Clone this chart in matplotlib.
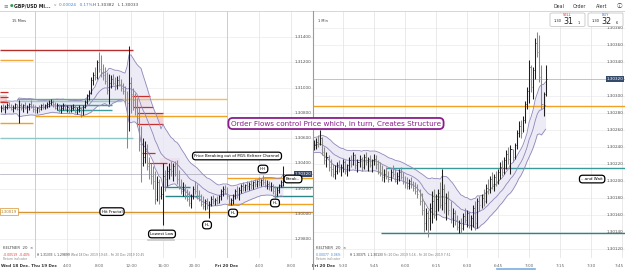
import numpy as np
import pandas as pd
import matplotlib
matplotlib.use("Agg")
import matplotlib.pyplot as plt
from matplotlib.patches import Rectangle, FancyBboxPatch

W, H = 625, 270
BASE = 1.30000

# --- 15 min GBP/USD bars (pips above 1.30000), Wed 18 Dec 19:45 onwards ---
hi15 = [86, 87, 86, 88, 89, 87, 86, 88, 87, 90,
        88, 87, 89, 86, 88, 90, 87,
        86, 85, 86, 87, 88, 87, 89, 90, 91, 90,
        89, 88, 87, 86, 88, 87, 86, 85, 86, 87, 86, 85, 86, 85, 86,
        90, 95, 98, 108, 112, 116, 122, 128, 126, 119, 116, 112, 111,
        110, 111, 108, 109, 110, 107, 104, 101, 97, 133,
        108, 100, 96, 92, 85, 70, 60, 58, 55, 45, 40, 38, 34, 30, 28, 22, 40,
        35, 38, 40, 42, 40, 42, 43, 35, 28, 25, 24, 20, 18, 16, 22, 26, 24, 19, 16, 14, 12, 13, 10,
        14, 15, 13, 14, 15, 20, 22, 23, 21, 15, 13, 16, 20, 22, 21,
        24, 25, 24, 26, 25, 27, 26, 28, 27, 29, 28, 31, 28, 27, 26, 25, 24, 22, 21, 24, 27, 38]
lo15 = [81, 82, 80, 83, 84, 82, 81, 83, 82, 72,
        82, 81, 83, 80, 82, 84, 81,
        80, 80, 81, 82, 83, 83, 84, 85, 86, 85,
        83, 82, 81, 80, 82, 82, 81, 80, 81, 82, 80, 79, 81, 77, 78,
        84, 87, 90, 95, 102, 106, 107, 112, 108, 106, 103, 95, 87,
        100, 102, 98, 99, 101, 97, 95, 87, 52, 66,
        80, 82, 78, 70, 50, 25, 38, 40, 35, 28, 24, 20, 8, 10, 8, 12, -9,
        18, 22, 28, 30, 26, 30, 24, 20, 16, 14, 12, 10, 6, 5, 12, 16, 12, 10, 6, 4, 3, 4, -3,
        6, 8, 7, 8, 9, 11, 14, 16, 12, 7, 7, 8, 12, 13, 11,
        17, 18, 18, 19, 19, 20, 20, 21, 21, 22, 22, 23, 21, 20, 19, 18, 16, 13, 14, 17, 21, 22]
cl15 = [84, 83, 85, 86, 85, 83, 84, 87, 83, 86,
        84, 86, 84, 85, 87, 85, 83,
        82, 84, 83, 86, 85, 86, 87, 88, 89, 87,
        84, 86, 83, 84, 86, 83, 85, 82, 84, 85, 81, 83, 84, 82, 85,
        89, 94, 96, 106, 110, 108, 120, 115, 112, 110, 105, 98, 104,
        107, 104, 101, 106, 103, 100, 97, 90, 88, 104,
        95, 90, 84, 76, 55, 40, 45, 50, 38, 32, 30, 26, 12, 25, 14, 16, 30,
        28, 34, 36, 34, 38, 32, 28, 22, 18, 20, 15, 12, 9, 14, 20, 18, 14, 12, 8, 6, 10, 7, 8,
        12, 10, 11, 9, 14, 18, 20, 17, 14, 9, 11, 14, 18, 15, 19,
        22, 21, 23, 22, 24, 23, 25, 24, 26, 25, 27, 25, 23, 24, 21, 22, 18, 16, 19, 23, 25, 32]

# --- 1 min bars (pips above 1.30000), Fri 20 Dec 5:16 onwards ---
hi1 = [24.8, 25.0, 25.4, 26.0, 25.2, 24.0, 23.4, 23.0, 22.6, 22.0,
       21.8, 22.2, 22.4, 22.0, 22.6, 22.4, 22.0, 22.8, 23.0, 23.4,
       23.2, 22.6, 23.0, 22.8, 23.2, 23.4, 22.8, 23.0, 22.6, 23.2,
       23.0, 22.4, 22.2, 21.8, 21.4, 21.6, 21.2, 21.4, 21.8, 21.4,
       21.0, 21.4, 21.6, 21.0, 20.6, 20.4, 20.2, 20.4, 20.0, 19.8,
       19.6, 19.0, 18.6, 17.6, 16.8, 16.6, 17.4, 18.8, 19.0, 18.4,
       19.0, 19.8, 21.4, 19.6, 18.6, 18.8, 17.6, 16.8, 16.6, 16.0,
       15.4, 15.6, 16.2, 16.8, 16.6, 16.4, 16.0, 17.2, 17.6, 18.0,
       18.2, 18.4, 19.0, 19.6, 20.2, 20.6, 21.0, 20.8, 21.2, 21.4,
       22.2, 22.4, 22.8, 23.6, 24.0, 24.2, 23.8, 24.4, 26.0, 27.0,
       27.2, 27.6, 29.4, 31.0, 34.2, 33.6, 33.4, 36.8, 37.5, 37.2,
       33.6, 30.4, 33.6]
lo1 = [23.6, 23.8, 24.0, 24.2, 23.0, 22.0, 21.6, 21.2, 20.6, 20.4,
       20.2, 20.8, 21.0, 20.6, 21.0, 20.8, 20.6, 21.2, 21.6, 21.8,
       21.4, 21.0, 21.6, 21.2, 21.4, 21.8, 21.2, 21.6, 21.0, 21.8,
       21.4, 20.8, 20.6, 20.0, 19.8, 20.2, 19.8, 20.0, 20.4, 19.8,
       19.6, 20.0, 20.2, 19.6, 19.2, 19.0, 19.0, 19.2, 18.8, 18.4,
       18.0, 17.2, 16.0, 14.0, 14.2, 13.4, 14.2, 15.0, 15.6, 15.4,
       16.4, 16.8, 16.6, 16.2, 15.4, 16.0, 15.0, 14.6, 14.8, 14.2,
       13.8, 13.9, 14.2, 15.0, 14.6, 14.4, 14.2, 14.6, 14.2, 14.4,
       16.4, 16.8, 17.0, 17.4, 18.4, 18.6, 19.0, 18.8, 19.4, 19.6,
       20.2, 20.6, 20.8, 21.4, 22.0, 20.8, 22.2, 22.6, 23.8, 25.2,
       25.0, 25.8, 26.8, 28.4, 29.2, 30.4, 29.6, 32.0, 34.6, 31.6,
       28.4, 27.6, 30.0]
cl1 = [24.2, 24.6, 24.4, 25.0, 23.4, 22.4, 22.8, 21.6, 21.4, 20.8,
       21.2, 21.8, 21.4, 21.6, 22.2, 21.2, 21.8, 22.4, 22.0, 23.0,
       21.8, 22.2, 22.6, 21.6, 22.8, 22.2, 22.6, 21.8, 22.4, 22.6,
       22.0, 21.2, 21.0, 20.4, 20.8, 20.6, 20.2, 21.0, 20.8, 20.0,
       20.6, 21.0, 20.4, 20.0, 19.8, 19.4, 20.0, 19.6, 19.2, 18.8,
       18.4, 17.6, 16.6, 15.0, 16.2, 15.6, 16.8, 17.6, 16.4, 17.8,
       18.6, 17.2, 19.0, 17.4, 18.0, 16.6, 15.6, 16.2, 15.4, 14.6,
       15.0, 14.4, 15.8, 15.4, 16.2, 14.8, 15.6, 16.8, 15.0, 17.6,
       17.2, 18.0, 17.6, 19.2, 19.0, 20.2, 19.6, 20.4, 20.0, 21.0,
       21.6, 21.0, 22.4, 23.2, 22.6, 23.8, 22.8, 24.2, 25.6, 26.4,
       25.6, 27.2, 29.0, 30.6, 33.4, 31.0, 33.0, 36.2, 35.2, 32.2,
       29.0, 30.2, 32.0]

# horizontal levels, pips above 1.30000 : (level, from bar, to bar, colour)
left_levels = [
    (130.0, -0.5, 66.2, "#b3302c"),
    (122.1, -0.5, 16.2, "#f2a93b"),
    (90.8, 7.8, 61.2, "#74a98f"),
    (89.5, 7.8, 60.3, "#92cccc"),
    (86.0, 27.8, 55.3, "#3f9c9c"),
    (82.6, 27.8, 55.3, "#3f9c9c"),
    (90.8, 60.3, 112.8, "#f7bd55"),
    (77.4, 17.0, 113.0, "#f2a223"),
    (72.1, -0.5, 16.2, "#f2a223"),
    (60.3, -0.5, 66.2, "#8fc6c6"),
    (21.5, 82.0, 94.5, "#2b8585"),
    (13.9, 82.0, 99.5, "#2b8585"),
    (28.8, 112.8, 156.0, "#f2a223"),
    (7.9, 112.8, 156.0, "#f2a223"),
    (21.5, 136.0, 156.0, "#2b8585"),
    (13.9, 136.0, 156.0, "#2b8585"),
    (1.9, -0.5, 156.0, "#d49431"),
]
red_lines = [(96.6, -0.5, 3.7), (92.6, -0.5, 3.7), (88.7, -0.5, 3.7),
             (93.0, 65.3, 74.5), (85.0, 66.2, 76.2), (80.0, 67.8, 81.2),
             (71.6, 67.8, 81.2), (48.0, 70.3, 77.0), (40.0, 73.7, 82.8)]
supply_zones = [(65.3, 74.5, 85.0, 93.0), (67.8, 81.2, 71.6, 80.0),
                (79.5, 89.5, 37.0, 44.0), (-0.5, 3.0, 88.0, 94.0)]
right_levels = [
    (28.8, 0, 160, "#f2a223"),
    (21.5, 35.8, 160, "#3a9a9a"),
    (13.9, 33.4, 160, "#2b8585"),
]
last_pips = 32.0

left_ticks = [1.29800, 1.30000, 1.30200, 1.30400, 1.30600, 1.30800,
              1.31000, 1.31200, 1.31400]
right_ticks = [1.30120, 1.30140, 1.30160, 1.30180, 1.30200, 1.30220, 1.30240,
               1.30260, 1.30280, 1.30300, 1.30340, 1.30360, 1.30380]
left_xpos = [33, 49, 65, 81, 97, 113, 129, 145]
left_xlab = ["4:00", "8:00", "12:00", "16:00", "20:00", "Fri 20 Dec", "4:00", "8:00"]
right_xpos = [15, 30, 45, 60, 75, 90, 105, 120, 135, 150]
right_xlab = ["5:30", "5:45", "6:00", "6:15", "6:30", "6:45", "7:00", "7:15", "7:30", "7:45"]


def px(v):
    return BASE + np.asarray(v, dtype=float) / 10000


def keltner(hi, lo, cl, n=20, mult=1.0):
    df = pd.DataFrame({"h": hi, "l": lo, "c": cl})
    mid = df.c.ewm(span=n, adjust=False).mean()
    prev = df.c.shift(1).fillna(df.c)
    tr = pd.concat([df.h - df.l, (df.h - prev).abs(), (df.l - prev).abs()], axis=1).max(axis=1)
    atr = tr.ewm(span=10, adjust=False).mean()
    return mid + mult * atr, mid, mid - mult * atr


def draw_bars(ax, x, hi, lo, cl, tick):
    prev = np.r_[cl[0], cl[:-1]]
    col = np.where(cl >= prev, "#1e1e1e", "#8a8a8a")
    ax.vlines(x, lo, hi, colors=col, lw=0.75, zorder=4)
    ax.hlines(cl, x, x + tick, colors=col, lw=0.6, zorder=4)


def draw_keltner(ax, x, up, mid, dn):
    ax.fill_between(x, up, dn, color="#e9e6f4", alpha=0.8, lw=0, zorder=1)
    for s in (up, mid, dn):
        ax.plot(x, s, color="#8f87b8", lw=0.6, zorder=3)


fig = plt.figure(figsize=(W / 100, H / 100), dpi=100)
fig.patch.set_facecolor("white")
axL = fig.add_axes([0, 12 / H, 313 / W, 247 / H])
axR = fig.add_axes([313 / W, 12 / H, 312 / W, 247 / H])

axL.set_xlim(-0.5, 156)
axL.set_ylim(1.29652, 1.31606)
axR.set_xlim(0.48, 151.4)
axR.set_ylim(1.30109, 1.30400)

for ax in (axL, axR):
    ax.set_xticks([])
    ax.set_yticks([])
    for s in ax.spines.values():
        s.set_visible(False)

lab = dict(fontsize=3, color="#555555")

# grids
for v in left_ticks:
    axL.axhline(v, color="#ececec", lw=0.5, zorder=0)
    axL.text(0.995, v, f"{v:.5f}", transform=axL.get_yaxis_transform(),
             ha="right", va="center", **lab)
for p in [17] + left_xpos:
    c = "#c4c4cc" if p in (17, 113) else "#e6e6e6"
    axL.axvline(p, color=c, lw=0.6, zorder=0)
axL.text(1 / 313, -0.032, "Wed 18 Dec. Thu 19 Dec", transform=axL.get_xaxis_transform(),
         ha="left", va="center", fontsize=3, color="#333333", fontweight="bold")
for p, t in zip(left_xpos, left_xlab):
    axL.text(p, -0.032, t, transform=axL.get_xaxis_transform(), ha="center", va="center",
             fontsize=3, color="#333333" if "Dec" in t else "#666666",
             fontweight="bold" if "Dec" in t else "normal")

for v in right_ticks:
    axR.axhline(v, color="#ececec", lw=0.5, zorder=0)
    axR.text(0.995, v, f"{v:.5f}", transform=axR.get_yaxis_transform(),
             ha="right", va="center", **lab)
for p in right_xpos:
    axR.axvline(p, color="#e6e6e6", lw=0.6, zorder=0)
axR.text(2 / 312, -0.032, "Fri 20 Dec", transform=axR.get_xaxis_transform(),
         ha="left", va="center", fontsize=3, color="#333333", fontweight="bold")
for p, t in zip(right_xpos, right_xlab):
    edge = p == right_xpos[-1]
    axR.text(0.997 if edge else p, -0.032, t,
             transform=axR.transAxes if edge else axR.get_xaxis_transform(),
             ha="right" if edge else "center", va="center", fontsize=3, color="#666666")

# zones and levels
for x0, x1, p0, p1 in supply_zones:
    axL.add_patch(Rectangle((x0, px(p0)), x1 - x0, px(p1) - px(p0),
                            fc="#f6d3d3", ec="none", zorder=1))
for lv, x0, x1, c in left_levels:
    axL.hlines(px(lv), x0, x1, colors=c, lw=1.0, zorder=2)
for lv, x0, x1 in red_lines:
    axL.hlines(px(lv), x0, x1, colors="#c9302c", lw=0.9, zorder=2)
for lv, x0, x1, c in right_levels:
    axR.hlines(px(lv), x0, x1, colors=c, lw=1.0, zorder=2)
axL.axhline(px(last_pips), color="#a9a9b8", lw=0.5, zorder=2)
axR.axhline(px(last_pips), color="#a9a9b8", lw=0.5, zorder=2)

# bars + keltner
xL = np.arange(len(hi15))
hL, lL, cL = px(hi15), px(lo15), px(cl15)
draw_keltner(axL, xL, *keltner(hL, lL, cL))
draw_bars(axL, xL, hL, lL, cL, 0.5)

xR = np.arange(1, len(hi1) + 1)
hR, lR, cR = px(hi1), px(lo1), px(cl1)
draw_keltner(axR, xR, *keltner(hR, lR, cR, mult=0.75))
draw_bars(axR, xR, hR, lR, cR, 0.5)

# last price flags
flag = dict(boxstyle="square,pad=0.25", fc="#35496b", ec="none")
axL.text(0.995, px(last_pips), f"{px(last_pips):.5f}", transform=axL.get_yaxis_transform(),
         ha="right", va="center", fontsize=3, color="white", bbox=flag, zorder=6)
axR.text(0.995, px(last_pips), f"{px(last_pips):.5f}", transform=axR.get_yaxis_transform(),
         ha="right", va="center", fontsize=3, color="white", bbox=flag, zorder=6)
axL.text(0.003, px(1.9), "1.30019", transform=axL.get_yaxis_transform(), ha="left",
         va="center", fontsize=2.8, color="#b07a2a",
         bbox=dict(boxstyle="square,pad=0.3", fc="white", ec="#d49431", lw=0.5), zorder=6)

# annotations
box = dict(boxstyle="round,pad=0.45,rounding_size=0.8", fc="white", ec="black", lw=0.9)
notes_left = [("Hit Fractal", 55.5, 1.9), ("Lowest Low", 80.5, -15.8), ("HL", 103, -8.7),
              ("HL", 116, 0.8), ("HH", 131, 35.6), ("HL", 137, 8.7), ("Break..", 146, 27.7),
              ("Price Breaking out of M15 Keltner Channel", 118, 45.9)]
for t, x, p in notes_left:
    axL.text(x, px(p), t, ha="center", va="center", fontsize=2.9, color="black",
             bbox=box, zorder=7)
axR.text(135.5, px(20.2), "...and Wait", ha="center", va="center", fontsize=2.9,
         color="black", bbox=box, zorder=7)


def ftext(x, y, s, **kw):
    fig.text(x / W, 1 - y / H, s, **kw)


ftext(336, 123.5, "Order Flows control Price which, in turn, Creates Structure",
      ha="center", va="center", fontsize=5.2, color="#8a1d8c", zorder=10,
      bbox=dict(boxstyle="round,pad=0.35,rounding_size=0.6", fc="white", ec="#8a1d8c", lw=1.3))

# header strip
fig.add_artist(plt.Line2D([0, 1], [1 - 11 / H, 1 - 11 / H], color="#d0d0d0", lw=0.6))
fig.add_artist(plt.Line2D([313 / W, 313 / W], [0, 1 - 11 / H], color="#9a9aa6", lw=0.8))
ftext(3, 5.5, "≡", fontsize=4, color="#777777", va="center")
ftext(10, 5.5, "●", fontsize=3, color="#2e9e4a", va="center")
ftext(14.5, 5.5, "GBP/USD Mi...", fontsize=3.3, color="#222222", va="center", fontweight="bold")
ftext(54, 5.5, "v", fontsize=3, color="#888888", va="center")
ftext(59, 5.5, "0.00024   0.17%", fontsize=3, color="#3f7fcf", va="center")
ftext(93, 5.5, "H 1.30382   L 1.30033", fontsize=3, color="#444444", va="center")
ftext(553, 6, "Deal", fontsize=3.4, color="#333333", va="center")
ftext(573, 6, "Order", fontsize=3.4, color="#333333", va="center")
ftext(596, 6, "Alert", fontsize=3.4, color="#333333", va="center")
ftext(617, 6, "ⓘ", fontsize=4, color="#333333", va="center",
      family=["DejaVu Sans", "Noto Sans CJK JP"])
ftext(12, 21, "15 Mins", fontsize=2.6, color="#333333", va="center")
ftext(318, 21, "1 Min", fontsize=2.6, color="#333333", va="center")

# deal ticket
for x0, lbl, c, big, small in [(550, "SELL", "#d9342b", "31", "1"), (588, "BUY", "#3f7fcf", "32", "6")]:
    fig.add_artist(FancyBboxPatch((x0 / W, 1 - 26.5 / H), 35 / W, 13.5 / H,
                                  boxstyle="round,pad=0,rounding_size=0.004",
                                  fc="white", ec="#c8c8c8", lw=0.6, transform=fig.transFigure))
    ftext(x0 + 17.5, 15.5, lbl, fontsize=2.6, color=c, ha="center", va="center")
    ftext(x0 + 11.5, 21.5, "1.30", fontsize=2.6, color="#222222", ha="right", va="center")
    ftext(x0 + 13, 22, big, fontsize=5.8, color="#222222", ha="left", va="center")
    ftext(x0 + 27.5, 23.3, small, fontsize=2.6, color="#222222", ha="left", va="center")

# indicator strips
for x0, chg, cc, hl, rng in [(3, "-0.00519  -0.40%", "#d9342b", "H 1.31333  L 1.29899",
                              "Wed 18 Dec 2019 19:45 - Fri 20 Dec 2019 10:45"),
                             (316, "0.00077  0.06%", "#3f7fcf", "H 1.30375  L 1.30133",
                              "Fri 20 Dec 2019 5:16 - Fri 20 Dec 2019 7:51")]:
    ftext(x0, 248, "KELTNER  20  ×", fontsize=2.8, color="#444444", va="center")
    ftext(x0, 254.5, chg, fontsize=2.2, color=cc, va="center")
    ftext(x0 + 34, 254.5, hl, fontsize=2.2, color="#333333", va="center")
    ftext(x0 + 68, 254.5, rng, fontsize=2.2, color="#777777", va="center")
    ftext(x0, 259.5, "Return indicator", fontsize=2.2, color="#888888", va="center")

fig.add_artist(FancyBboxPatch((147 / W, 1 - 241 / H), 28 / W, 2 / H,
                              boxstyle="round,pad=0,rounding_size=0.002",
                              fc="#d0d0d0", ec="none", transform=fig.transFigure))
fig.add_artist(plt.Line2D([497 / W, 535 / W], [1 - 269 / H, 1 - 269 / H],
                          color="#7aaee0", lw=1.2))

fig.savefig("out.png", dpi=100)
